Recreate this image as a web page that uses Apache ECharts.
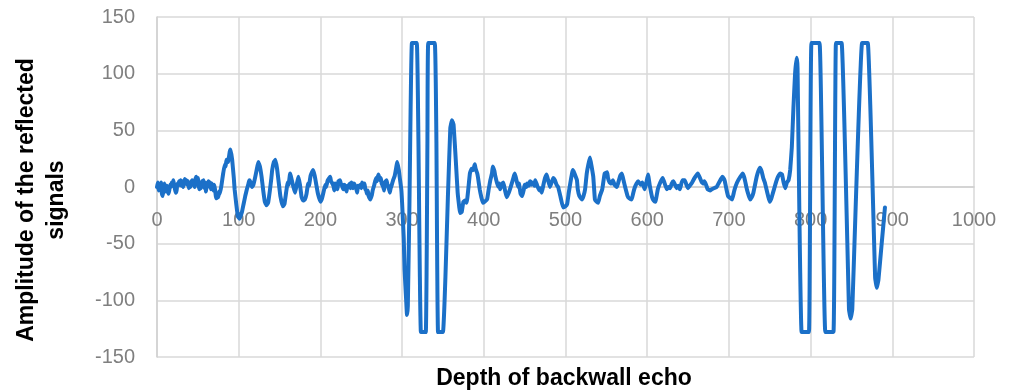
<!DOCTYPE html>
<html>
<head>
<meta charset="utf-8">
<script src="https://cdn.jsdelivr.net/npm/echarts@6/dist/echarts.min.js"></script>
<style>
  html, body { margin: 0; padding: 0; background: #ffffff; }
  #chart { width: 1014px; height: 392px; }
</style>
</head>
<body>
<div id="chart"></div>
<script>
// Depth positions of the sampled echo trace
const depth = [
  0, 1, 2, 3, 4, 5, 6, 7, 8, 9,
  10, 11, 12, 13, 14, 15, 16, 17, 18, 19,
  20, 21, 22, 23, 24, 25, 26, 27, 28, 29,
  30, 31, 32, 33, 34, 35, 36, 37, 38, 39,
  40, 41, 42, 43, 44, 45, 46, 47, 48, 49,
  50, 51, 52, 53, 54, 55, 56, 57, 58, 59,
  60, 61, 62, 63, 64, 65, 66, 67, 68, 69,
  70, 71, 72, 73, 74, 75, 76, 77, 79, 81,
  83, 84, 85, 87, 89, 90, 92, 94, 95, 97,
  99, 101, 104, 106, 108, 110, 112, 113, 114, 116,
  118, 120, 122, 124, 126, 128, 130, 132, 134, 136,
  138, 140, 141, 143, 145, 147, 149, 151, 154, 156,
  158, 160, 161, 163, 164, 165, 167, 169, 171, 173,
  175, 177, 179, 181, 183, 185, 186, 188, 191, 193,
  195, 197, 200, 202, 204, 206, 207, 209, 212, 213,
  214, 216, 217, 218, 220, 221, 222, 224, 225, 226,
  228, 229, 230, 232, 233, 234, 236, 237, 238, 240,
  241, 242, 244, 245, 246, 247, 249, 250, 251, 253,
  254, 255, 256, 257, 258, 259, 261, 263, 264, 266,
  268, 269, 271, 273, 274, 275, 277, 278, 279, 281,
  282, 283, 285, 286, 287, 289, 291, 293, 294, 296,
  297, 299, 300, 302, 303, 305, 306, 307, 309, 312,
  318, 320, 323, 329, 331, 332, 340, 342, 344, 350,
  353, 356, 359, 361, 363, 366, 368, 370, 371, 373,
  375, 377, 379, 381, 383, 385, 387, 389, 390, 392,
  393, 395, 397, 399, 401, 404, 406, 408, 410, 411,
  413, 414, 416, 418, 419, 420, 422, 424, 426, 428,
  430, 432, 435, 437, 438, 440, 442, 443, 445, 447,
  449, 450, 452, 453, 455, 456, 457, 458, 460, 462,
  463, 465, 466, 468, 469, 471, 473, 475, 477, 479,
  481, 483, 485, 487, 489, 491, 494, 497, 500, 502,
  504, 506, 508, 509, 511, 514, 515, 517, 520, 522,
  524, 526, 528, 530, 532, 534, 536, 538, 540, 542,
  545, 547, 548, 551, 552, 554, 556, 558, 560, 563,
  565, 567, 569, 571, 573, 576, 578, 581, 583, 585,
  587, 589, 592, 594, 597, 599, 601, 603, 606, 608,
  610, 613, 616, 619, 621, 624, 626, 628, 630, 632,
  634, 636, 638, 640, 643, 646, 648, 650, 652, 655,
  658, 662, 664, 667, 669, 670, 672, 674, 677, 679,
  682, 685, 688, 692, 694, 695, 697, 699, 702, 704,
  706, 707, 710, 714, 717, 719, 722, 724, 726, 728,
  730, 732, 734, 736, 738, 740, 742, 744, 746, 748,
  750, 752, 754, 756, 758, 760, 763, 765, 767, 769,
  771, 773, 775, 777, 779, 781, 783, 784, 789, 798,
  801, 811, 818, 828, 831, 838, 847, 849, 851, 863,
  870, 879, 881, 883, 887, 891
];

// Reflected signal amplitude at each depth (saturates near +127 / -128)
const amplitude = [
  0, 4, -3, 2, -1, 4, -6, -8, -2, 3,
  -1, -4, 1, -2, -6, -3, 2, 0, 4, 1,
  6, 2, -2, -5, -3, 3, 1, 5, 2, 6,
  1, 5, 0, 3, 7, 4, 6, 2, 5, -1,
  2, 0, 4, 6, 2, 5, 0, 7, 9, 4,
  8, 1, -2, 3, -1, 5, 2, 6, -1, 4,
  -4, 3, 0, 5, 1, 4, -2, 3, 0, -3,
  2, -2, -8, -10, -6, -9, -4, -6, 2, 12,
  20, 18, 24, 22, 31, 33, 24, 8, -2, -15,
  -26, -28, -22, -15, -8, -2, 3, 6, 5, 0,
  2, 8, 15, 22, 18, 9, -3, -13, -16, -14,
  -4, 8, 15, 22, 24, 16, 4, -8, -17, -15,
  -5, 4, 2, 12, 9, 6, 0, -5, 2, 9,
  2, -9, -12, -11, -6, 3, 1, 10, 15, 10,
  2, -6, -13, -10, -4, 2, 0, 6, 9, 5,
  4, 1, -3, 3, 0, -2, 5, 6, 3, 2,
  -2, 2, 1, -4, 1, 0, 3, -1, 4, -1,
  3, 2, -2, -5, 1, 0, 2, -1, 4, 0,
  3, -2, -3, -6, -3, -8, -11, -7, -3, 2,
  8, 5, 11, 6, 8, 3, 0, -3, 4, 6,
  2, 1, -5, -1, 1, 6, 10, 18, 22, 15,
  9, -2, -14, -45, -73, -100, -113, -105, -15, 127,
  127, 40, -128, -128, 40, 127, 127, 40, -128, -128,
  -80, -10, 52, 59, 55, 20, -5, -18, -23, -22,
  -13, -12, -14, -2, 12, 16, 15, 20, 16, 12,
  8, -2, -9, -14, -13, -11, -2, 6, 12, 18,
  14, 10, 4, 0, 3, -2, 2, 4, -3, -9,
  -6, -2, 5, 10, 12, 6, 0, 3, -6, -8,
  -2, 2, 0, 3, 1, 4, 5, 2, 4, 1,
  6, 2, 0, -3, -1, -5, 2, 8, 11, 5,
  0, 4, 8, 6, 2, 0, -9, -18, -17, -15,
  -5, 4, 12, 15, 12, 6, -2, -8, -11, -8,
  -2, 12, 20, 26, 18, 9, -11, -13, -14, -8,
  -2, 8, 12, 13, 8, 4, 3, 6, 2, 0,
  5, 10, 12, 6, 0, -8, -10, -11, -5, 0,
  3, 5, 2, 4, -2, 4, 11, 2, -9, -12,
  -13, -2, 4, 8, 4, -2, 0, -1, 3, 5,
  2, -1, 1, -2, 6, 6, 2, -1, 1, 4,
  8, 12, 9, 4, 3, 5, 2, -2, -3, -2,
  -1, 0, 4, 9, 7, 5, -2, -8, -10, -11,
  -5, -2, 4, 9, 12, 8, -2, -7, -11, -9,
  -5, 2, 9, 14, 17, 14, 8, 4, -2, -8,
  -13, -10, -5, 0, 5, 9, 12, 11, 4, -1,
  4, 6, 15, 35, 70, 100, 114, 105, -128, -128,
  127, 127, -128, -128, 127, 127, -108, -116, -108, 127,
  127, -80, -89, -82, -50, -18
];

// Axis ranges and tick spacing
const xTicks = { min: 0, max: 1000, interval: 100 };
const yTicks = { min: -150, max: 150, interval: 50 };

const points = depth.map((d, i) => [d, amplitude[i]]);

const gridTop = 17;
const gridHeight = 340;
// The depth axis sits on the zero amplitude line
const zeroOffset = gridHeight * yTicks.min / (yTicks.max - yTicks.min);

const chart = echarts.init(document.getElementById('chart'), null, { renderer: 'canvas' });

const tickFont = {
  color: '#7F7F7F',
  fontSize: 20,
  fontFamily: 'Liberation Sans, Arial, sans-serif'
};
const titleFont = {
  fill: '#000000',
  font: 'bold 23px "Liberation Sans", Arial, sans-serif',
  textAlign: 'center',
  textVerticalAlign: 'middle'
};

chart.setOption({
  animation: false,
  backgroundColor: '#ffffff',
  grid: {
    left: 157, right: 40, top: gridTop, height: gridHeight,
    containLabel: false, outerBoundsMode: 'none'
  },
  xAxis: {
    type: 'value',
    position: 'bottom',
    offset: zeroOffset,
    min: xTicks.min,
    max: xTicks.max,
    interval: xTicks.interval,
    axisLine: { show: true, onZero: false, lineStyle: { color: '#D0D0D0', width: 1.5 } },
    axisTick: { show: false },
    axisLabel: Object.assign({ margin: 23, formatter: v => String(v) }, tickFont),
    splitLine: { show: true, lineStyle: { color: '#D9D9D9', width: 1.5 } }
  },
  yAxis: {
    type: 'value',
    min: yTicks.min,
    max: yTicks.max,
    interval: yTicks.interval,
    axisLine: { show: true, lineStyle: { color: '#D0D0D0', width: 1.5 } },
    axisTick: { show: false },
    axisLabel: Object.assign({ margin: 22 }, tickFont),
    splitLine: { show: true, lineStyle: { color: '#D9D9D9', width: 1.5 } }
  },
  graphic: [
    { type: 'text', x: 564, y: 379, style: Object.assign({ text: 'Depth of backwall echo' }, titleFont) },
    { type: 'text', x: 27, y: 200, rotation: Math.PI / 2, style: Object.assign({ text: 'Amplitude of the reflected' }, titleFont) },
    { type: 'text', x: 57, y: 200, rotation: Math.PI / 2, style: Object.assign({ text: 'signals' }, titleFont) }
  ],
  series: [{
    type: 'line',
    data: points,
    showSymbol: false,
    smooth: 0.1,
    lineStyle: { color: '#1B70C8', width: 4, join: 'round', cap: 'round' },
    itemStyle: { color: '#1B70C8' }
  }]
});
</script>
</body>
</html>
